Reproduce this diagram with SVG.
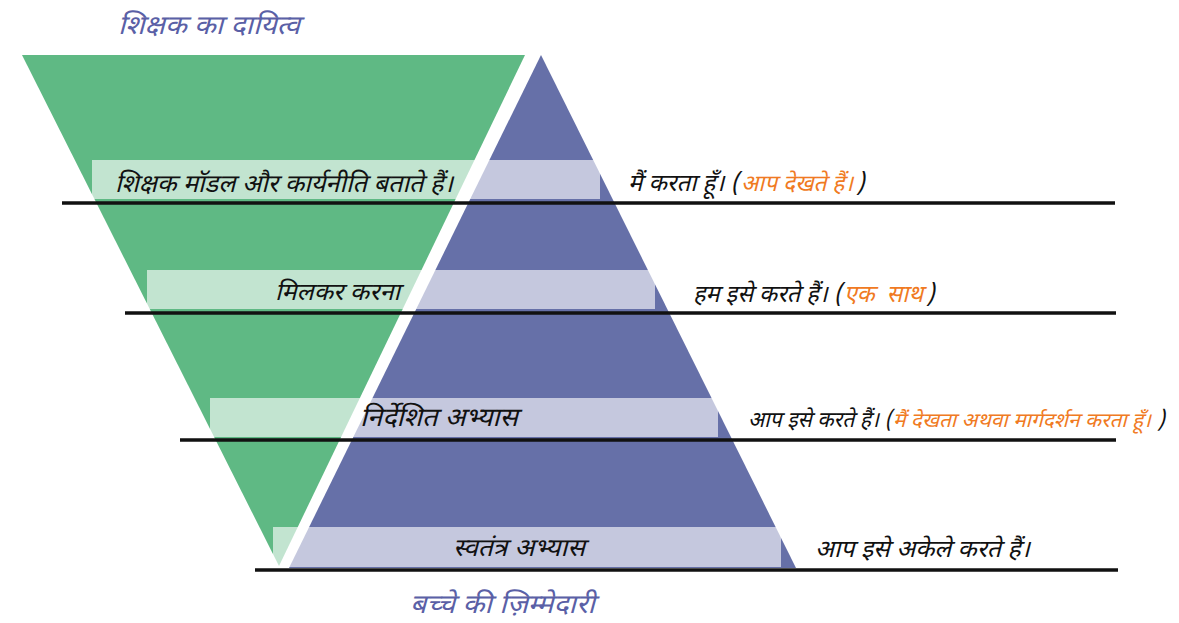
<svg xmlns="http://www.w3.org/2000/svg" width="1179" height="623" viewBox="0 0 1179 623">
<style>
.t{font-family:"Noto Sans Devanagari","Noto Sans","Lohit Devanagari","DejaVu Sans",sans-serif;font-style:italic;font-size:24px;fill:#111}
.h{font-family:"Noto Sans Devanagari","Noto Sans","Lohit Devanagari","DejaVu Sans",sans-serif;font-style:italic;font-size:26.5px;fill:#5a60a6}
.o{fill:#f07a22}
.band{fill:#ffffff;fill-opacity:0.62}
.line{stroke:#111;stroke-width:3.5}
</style>
<rect width="1179" height="623" fill="#ffffff"/>
<g id="teacher-triangle"><polygon points="22,55 525,55 279,566" fill="#5fb984"/></g>
<g id="child-triangle"><polygon points="541,55 796,568 289,568" fill="#6670a8"/></g>
<g id="bands">
<rect class="band" x="92" y="160" width="508" height="39"/>
<rect class="band" x="147" y="270" width="508" height="39"/>
<rect class="band" x="210" y="398" width="508" height="39"/>
<rect class="band" x="273" y="527" width="508" height="40"/>
</g>
<g id="connectors">
<line class="line" x1="62" y1="203" x2="1115" y2="203"/>
<line class="line" x1="125" y1="313" x2="1116" y2="313"/>
<line class="line" x1="180" y1="440" x2="1116" y2="440"/>
<line class="line" x1="255" y1="570" x2="1118" y2="570"/>
</g>
<g id="title-top"><text class="h" x="118" y="34" textLength="182" lengthAdjust="spacingAndGlyphs">शिक्षक का दायित्व</text></g>
<g id="title-bottom"><text class="h" x="410" y="613" textLength="185" lengthAdjust="spacingAndGlyphs">बच्चे की ज़िम्मेदारी</text></g>
<g id="step1">
<text class="t" x="115" y="192" style="font-size:25px" textLength="338" lengthAdjust="spacingAndGlyphs">शिक्षक मॉडल और कार्यनीति बताते हैं।</text>
<text class="t" x="628" y="191" textLength="111" lengthAdjust="spacingAndGlyphs">मैं करता हूँ। (</text>
<text class="t o" x="741" y="191" style="font-size:23px" textLength="112" lengthAdjust="spacingAndGlyphs">आप देखते हैं।</text>
<text class="t" x="856" y="191">)</text>
</g>
<g id="step2">
<text class="t" x="693" y="302" textLength="149" lengthAdjust="spacingAndGlyphs">हम इसे करते हैं। (</text>
<text class="t o" x="844" y="302" textLength="79" lengthAdjust="spacingAndGlyphs" xml:space="preserve">एक  साथ</text>
<text class="t" x="926" y="302">)</text>
<text class="t" x="275" y="300" textLength="125" lengthAdjust="spacingAndGlyphs">मिलकर करना</text>
</g>
<g id="step3">
<text class="t" x="360" y="426" style="font-size:26px" textLength="158" lengthAdjust="spacingAndGlyphs">निर्देशित अभ्यास</text>
<text class="t" x="748" y="427" style="font-size:22px" textLength="144" lengthAdjust="spacingAndGlyphs">आप इसे करते हैं। (</text>
<text class="t o" x="893" y="427" style="font-size:20px" textLength="258" lengthAdjust="spacingAndGlyphs">मैं देखता अथवा मार्गदर्शन करता हूँ।</text>
<text class="t" x="1157" y="427" style="font-size:22px">)</text>
</g>
<g id="step4">
<text class="t" x="453" y="556" style="font-size:25px" textLength="132" lengthAdjust="spacingAndGlyphs">स्वतंत्र अभ्यास</text>
<text class="t" x="815" y="557" textLength="215" lengthAdjust="spacingAndGlyphs">आप इसे अकेले करते हैं।</text>
</g>
</svg>
